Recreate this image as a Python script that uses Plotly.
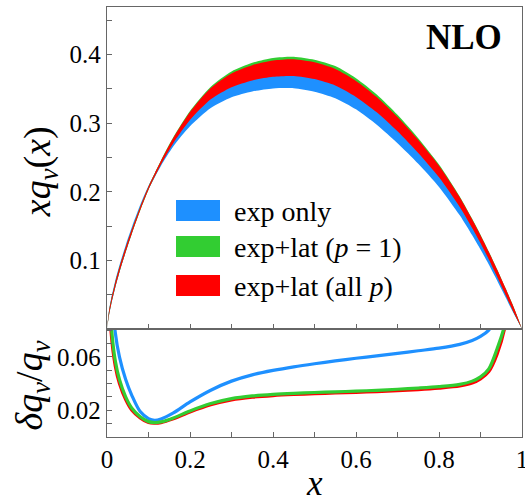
import plotly.graph_objects as go

# ---------------- data ----------------
X = [0.0, 0.005, 0.01, 0.02, 0.03, 0.045, 0.06, 0.08, 0.1, 0.115, 0.13, 0.16, 0.2, 0.25,
     0.3, 0.35, 0.4, 0.45, 0.5, 0.55, 0.6, 0.65, 0.7, 0.75, 0.8, 0.85, 0.88, 0.9, 0.92,
     0.94, 0.96, 0.98, 1.0]

# central values of x q_v(x)
XQ_EXP = [0.0, 0.0243, 0.0398, 0.0656, 0.0877, 0.1172, 0.1441, 0.1776, 0.2061, 0.2240,
          0.2410, 0.2712, 0.3034, 0.3337, 0.3524, 0.3630, 0.3689, 0.3703, 0.3660, 0.3567,
          0.3402, 0.3169, 0.2889, 0.2575, 0.2219, 0.1780, 0.1471, 0.1251, 0.1022, 0.0778,
          0.0525, 0.0265, 0.0]
XQ_P1 = [0.0, 0.0240, 0.0393, 0.0648, 0.0867, 0.1158, 0.1424, 0.1755, 0.2055, 0.2247,
         0.2430, 0.2758, 0.3117, 0.3447, 0.3650, 0.3765, 0.3829, 0.3844, 0.3799, 0.3707,
         0.3535, 0.3303, 0.3015, 0.2684, 0.2311, 0.1859, 0.1541, 0.1315, 0.1074, 0.0818,
         0.0552, 0.0279, 0.0]
XQ_ALL = [0.0, 0.0240, 0.0393, 0.0648, 0.0867, 0.1158, 0.1424, 0.1755, 0.2055, 0.2245,
          0.2425, 0.2750, 0.3105, 0.3430, 0.3625, 0.3735, 0.3795, 0.3810, 0.3765, 0.3670,
          0.3500, 0.3270, 0.2985, 0.2660, 0.2295, 0.1850, 0.1535, 0.1310, 0.1070, 0.0815,
          0.0550, 0.0278, 0.0]

# relative uncertainties delta q_v / q_v
ERR_EXP = [0.20, 0.15, 0.12, 0.078, 0.060, 0.043, 0.031, 0.019, 0.0138, 0.0125, 0.0135,
           0.0180, 0.0262, 0.0350, 0.0418, 0.0465, 0.0498, 0.0525, 0.0548, 0.0569, 0.0589,
           0.0607, 0.0625, 0.0645, 0.0665, 0.0693, 0.0722, 0.0752, 0.080, 0.090, 0.11,
           0.15, 0.25]
ERR_P1 = [0.20, 0.13, 0.085, 0.057, 0.043, 0.030, 0.0215, 0.0152, 0.0115, 0.0108, 0.0113,
          0.0143, 0.0195, 0.0250, 0.0287, 0.0307, 0.0319, 0.0327, 0.0333, 0.0338, 0.0343,
          0.0349, 0.0357, 0.0366, 0.0377, 0.0394, 0.0418, 0.0450, 0.051, 0.066, 0.086,
          0.14, 0.25]
ERR_ALL = [0.20, 0.12, 0.078, 0.053, 0.040, 0.028, 0.020, 0.0143, 0.0108, 0.0104, 0.0108,
           0.0136, 0.0187, 0.0241, 0.0278, 0.0298, 0.0310, 0.0318, 0.0324, 0.0329, 0.0334,
           0.0340, 0.0347, 0.0355, 0.0366, 0.0382, 0.0404, 0.0435, 0.049, 0.062, 0.084,
           0.135, 0.25]

SERIES = ["exp only", "exp+lat (p=1)", "exp+lat (all p)"]
COLORS = ["#1E90FF", "#32CD32", "#FF0000"]

X_TICKS = [0.0, 0.1, 0.2, 0.3, 0.4, 0.5, 0.6, 0.7, 0.8, 0.9, 1.0]
X_TICKTEXT = ["0", "", "0.2", "", "0.4", "", "0.6", "", "0.8", "", "1"]
Y1_TICKS = [0.05, 0.1, 0.15, 0.2, 0.25, 0.3, 0.35, 0.4, 0.45]
Y1_TICKTEXT = ["", "0.1", "", "0.2", "", "0.3", "", "0.4", ""]
Y2_TICKS = [0.01, 0.02, 0.03, 0.04, 0.05, 0.06, 0.07, 0.08]
Y2_TICKTEXT = ["", "0.02", "", "", "", "0.06", "", ""]

# ---------------- figure ----------------
FONT = "Liberation Serif"
fig = go.Figure()

centers = [XQ_EXP, XQ_P1, XQ_ALL]
errs = [ERR_EXP, ERR_P1, ERR_ALL]

# top panel: error bands (blue, green, red on top)
for c, e, col, name in zip(centers, errs, COLORS, SERIES):
    upper = [ci * (1 + ei) for ci, ei in zip(c, e)]
    lower = [ci * (1 - ei) for ci, ei in zip(c, e)]
    fig.add_trace(go.Scatter(
        x=X, y=lower, mode="lines", line=dict(width=0, color=col, shape="spline",
                                              smoothing=0.7),
        xaxis="x2", yaxis="y", showlegend=False, hoverinfo="skip", name=name))
    fig.add_trace(go.Scatter(
        x=X, y=upper, mode="lines", fill="tonexty", fillcolor=col,
        line=dict(width=0, color=col, shape="spline", smoothing=0.7),
        xaxis="x2", yaxis="y", showlegend=False, hoverinfo="skip", name=name))

# bottom panel: relative errors (blue, red, green on top)
for idx in [0, 2, 1]:
    fig.add_trace(go.Scatter(
        x=X, y=errs[idx], mode="lines",
        line=dict(color=COLORS[idx], width=3.2, shape="spline", smoothing=0.9),
        xaxis="x", yaxis="y2", showlegend=False, name=SERIES[idx]))

AX = dict(showline=True, linecolor="#666666", linewidth=1.3, mirror=True,
          ticks="inside", ticklen=5, tickwidth=1, tickcolor="#666666",
          showgrid=False, zeroline=False, automargin=False,
          tickfont=dict(family=FONT, size=25, color="black"))

fig.update_layout(
    width=525, height=499,
    margin=dict(l=107, r=3, t=7, b=62, autoexpand=False),
    paper_bgcolor="white", plot_bgcolor="white",
    showlegend=False,
    xaxis=dict(domain=[0, 1], anchor="y2", range=[0, 1], ticklabeloverflow="allow",
               tickmode="array", tickvals=X_TICKS, ticktext=X_TICKTEXT, **AX),
    xaxis2=dict(domain=[0, 1], anchor="y", range=[0, 1], matches="x",
                tickmode="array", tickvals=X_TICKS, showticklabels=False, **AX),
    yaxis=dict(domain=[0.2512, 1], anchor="x2", range=[0, 0.4694],
               tickmode="array", tickvals=Y1_TICKS, ticktext=Y1_TICKTEXT, **AX),
    yaxis2=dict(domain=[0, 0.2512], anchor="x", range=[0, 0.0808],
                tickmode="array", tickvals=Y2_TICKS, ticktext=Y2_TICKTEXT, **AX),
)

# legend drawn by hand
box_y = [(0.5023, 0.5512), (0.4186, 0.4674), (0.3279, 0.3767)]
labels = ["exp only", "exp+lat (<i>p</i> = 1)", "exp+lat (all <i>p</i>)"]
for (y0, y1), col, lab in zip(box_y, COLORS, labels):
    fig.add_shape(type="rect", xref="paper", yref="paper", x0=0.1663, x1=0.2723,
                  y0=y0, y1=y1, fillcolor=col, line=dict(width=0))
    fig.add_annotation(xref="paper", yref="paper", x=0.3012, y=(y0 + y1) / 2 - 0.003,
                       xanchor="left", yanchor="middle", showarrow=False, text=lab,
                       font=dict(family=FONT, size=28, color="black"))

fig.add_annotation(xref="paper", yref="paper", x=0.860, y=0.930, showarrow=False,
                   text="<b>NLO</b>", font=dict(family=FONT, size=35, color="black"),
                   xanchor="center", yanchor="middle")

# axis titles
fig.add_annotation(xref="paper", yref="paper", x=-0.1614, y=0.616, showarrow=False,
                   textangle=-90, text="<i>xq</i><sub><i>v</i></sub>(<i>x</i>)",
                   font=dict(family=FONT, size=38, color="black"),
                   xanchor="center", yanchor="middle")
fig.add_annotation(xref="paper", yref="paper", x=-0.1807, y=0.120, showarrow=False,
                   textangle=-90,
                   text="<i>δq</i><sub><i>v</i></sub>/<i>q</i><sub><i>v</i></sub>",
                   font=dict(family=FONT, size=38, color="black"),
                   xanchor="center", yanchor="middle")
fig.add_annotation(xref="paper", yref="paper", x=0.5, y=-0.109, showarrow=False,
                   text="<i>x</i>", font=dict(family=FONT, size=35, color="black"),
                   xanchor="center", yanchor="middle")

fig.write_html("out.html", config={"displayModeBar": False},
               post_script="document.body.style.margin='0';"
                           "document.body.style.overflow='hidden';")
